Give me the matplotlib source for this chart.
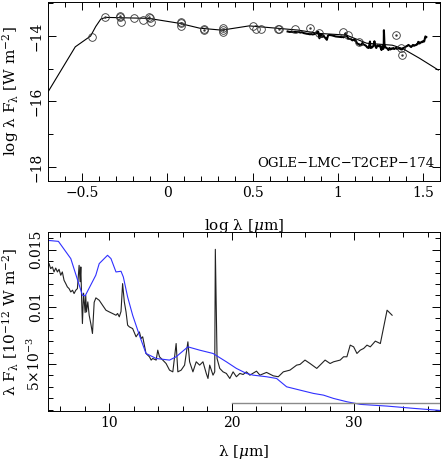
"""
SED of OGLE-LMC-T2CEP-174: photometry + model (top, log-log) and the
Spitzer IRS spectrum against the model (bottom, linear).

Writes out.png.
"""

import matplotlib
matplotlib.use("Agg")
import matplotlib.pyplot as plt
import numpy as np
from matplotlib.ticker import MultipleLocator, FixedLocator

# ---- top panel: model SED (log lambda [um], log lambda F_lambda [W m^-2]) ----
MODEL_LOGLAM = [-0.706, -0.54, -0.45, -0.42, -0.39, -0.36, -0.28, -0.11, 0.07,
                0.19, 0.32, 0.48, 0.64, 0.77, 0.89, 1.05, 1.17, 1.32, 1.38,
                1.48, 1.56, 1.59]
MODEL_LOGF = [-15.76, -14.33, -14.0, -13.71, -13.48, -13.43, -13.44, -13.46,
              -13.61, -13.76, -13.82, -13.69, -13.76, -13.82, -13.92, -13.97,
              -14.22, -14.28, -14.38, -14.68, -14.94, -15.04]

# photometry (open circles); DOTTED marks the ones drawn with a centre dot
PHOT_LOGLAM = [-0.441, -0.367, -0.275, -0.275, -0.269, -0.196, -0.143, -0.108,
               -0.104, -0.094, 0.078, 0.078, 0.082, 0.216, 0.216, 0.324, 0.324,
               0.324, 0.50, 0.52, 0.549, 0.647, 0.657, 0.751, 0.837, 0.892,
               1.029, 1.059, 1.127, 1.339, 1.373, 1.378]
PHOT_LOGF = [-14.02, -13.41, -13.38, -13.43, -13.58, -13.46, -13.51, -13.41,
             -13.46, -13.56, -13.56, -13.61, -13.69, -13.77, -13.82, -13.74,
             -13.82, -13.89, -13.69, -13.77, -13.80, -13.77, -13.77, -13.80,
             -13.74, -13.92, -13.87, -13.97, -14.17, -13.97, -14.38, -14.58]
DOTTED = [False, True, True, False, False, False, False, True, False, False,
          False, True, False, False, True, False, True, False, False, False,
          False, False, True, False, True, False, False, False, False, True,
          False, True]

# ---- bottom panel: IRS spectrum and model (lambda [um], 1e-3 x 1e-12 W m^-2) ----
IRS_LAM = [5.08, 5.22, 5.36, 5.49, 5.63, 5.77, 5.90, 6.04, 6.17, 6.31, 6.45,
           6.58, 6.72, 6.86, 7.00, 7.13, 7.27, 7.40, 7.54, 7.62, 7.68, 7.75,
           7.81, 7.90, 7.95, 8.03, 8.08, 8.14, 8.25, 8.36, 8.50, 8.63, 8.77,
           8.91, 9.18, 9.45, 9.73, 10.0, 10.27, 10.55, 10.68, 10.82, 10.96,
           11.09, 11.23, 11.37, 11.50, 11.64, 11.91, 12.19, 12.46, 12.60,
           12.73, 13.0, 13.28, 13.42, 13.55, 13.83, 13.96, 14.10, 14.37,
           14.64, 14.92, 15.19, 15.46, 15.60, 15.87, 16.15, 16.42, 16.56,
           16.83, 17.10, 17.38, 17.65, 17.92, 18.06, 18.20, 18.47, 18.61,
           18.66, 18.80, 19.02, 19.29, 19.56, 19.84, 20.11, 20.38, 20.66,
           20.93, 21.20, 21.48, 22.02, 22.30, 22.84, 23.39, 23.80, 24.21,
           24.75, 25.30, 25.57, 25.98, 26.39, 26.94, 27.62, 28.03, 28.31,
           28.85, 29.13, 29.40, 29.67, 29.95, 30.22, 30.49, 30.77, 31.04,
           31.31, 31.72, 32.13, 32.68, 33.09]
IRS_F = [13.79, 13.35, 13.50, 13.06, 13.40, 13.06, 13.29, 12.77, 13.06, 12.33,
         12.04, 11.75, 11.60, 11.31, 11.46, 11.17, 11.46, 11.60, 13.64, 12.2,
         13.5, 10.5, 8.54, 11.2, 10.6, 9.5, 11.0, 9.56, 10.44, 9.27, 8.5, 7.67,
         10.4, 10.79, 10.58, 10.15, 9.71, 9.56, 9.42, 9.27, 9.42, 9.13, 9.6,
         12.04, 10.44, 9.56, 8.40, 8.25, 8.10, 7.38, 7.81, 7.23, 7.38, 5.92,
         5.63, 5.34, 5.48, 5.34, 6.21, 5.63, 5.34, 5.04, 4.46, 4.31, 6.79,
         4.31, 4.46, 4.90, 6.94, 5.19, 4.31, 5.19, 4.90, 5.19, 4.17, 3.73,
         4.90, 4.02, 4.31, 15.04, 5.48, 4.61, 4.31, 4.17, 3.73, 4.31, 3.88,
         4.17, 4.08, 4.31, 4.02, 4.37, 4.02, 4.26, 3.96, 3.88, 4.31, 4.46,
         4.90, 4.96, 5.34, 5.04, 4.61, 5.34, 5.04, 5.19, 5.34, 5.63, 5.63,
         6.65, 6.50, 5.92, 6.21, 6.36, 6.65, 6.50, 7.0, 6.79, 9.71, 9.27]

BLUE_LAM = [4.95, 5.85, 6.86, 7.81, 8.03, 8.9, 9.18, 9.86, 10.14, 10.55,
            10.96, 11.15, 11.5, 11.91, 12.46, 13.0, 13.83, 14.92, 15.46, 16.42,
            17.38, 18.47, 19.56, 20.38, 21.2, 21.75, 22.84, 23.66, 24.48,
            25.57, 26.67, 27.49, 28.31, 29.4, 30.5, 32.68, 34.86, 37.0]
BLUE_F = [15.83, 15.74, 14.23, 11.02, 10.96, 12.77, 13.79, 14.52, 14.23,
          13.06, 13.12, 12.62, 10.87, 9.27, 7.52, 5.92, 5.48, 5.34, 5.63, 6.5,
          6.21, 5.92, 5.19, 4.61, 4.17, 4.02, 3.88, 3.73, 3.0, 2.71, 2.42,
          2.27, 1.98, 1.69, 1.46, 1.31, 1.11, 0.93]

FLOOR_LAM = [20.0, 37.0]
FLOOR_F = [1.60, 1.60]

plt.rcParams["font.family"] = ["DejaVu Serif"]
plt.rcParams["mathtext.fontset"] = "dejavuserif"
FS = 10


def style_axes(ax):
    ax.tick_params(which="both", direction="in", top=True, right=True,
                   labelsize=FS, width=0.7)
    ax.tick_params(which="major", length=6)
    ax.tick_params(which="minor", length=3.5)
    for lab in ax.get_yticklabels():
        lab.set_rotation(90)
        lab.set_va("center")
    for s in ax.spines.values():
        s.set_linewidth(0.7)


fig = plt.figure(figsize=(4.41, 4.63), dpi=100)
ax1 = fig.add_axes([48 / 441, 1 - 181 / 463, 392 / 441, 179 / 463])
ax2 = fig.add_axes([48 / 441, 1 - 411 / 463, 392 / 441, 179 / 463])

# top
ax1.plot(MODEL_LOGLAM, MODEL_LOGF, color="black", lw=0.8)
irs_log = np.log10(np.array(IRS_F) * 1e-15)
ax1.plot(np.log10(IRS_LAM), irs_log, color="black", lw=1.5)
ax1.plot(PHOT_LOGLAM, PHOT_LOGF, "o", ms=5.5, mfc="none", mec="#333333", mew=0.6)
dot = np.array(DOTTED)
ax1.plot(np.array(PHOT_LOGLAM)[dot], np.array(PHOT_LOGF)[dot], ".",
         ms=1.5, color="#333333")
ax1.set_xlim(-0.7, 1.6)
ax1.set_ylim(-18.43, -12.96)
ax1.xaxis.set_minor_locator(MultipleLocator(0.1))
ax1.yaxis.set_minor_locator(MultipleLocator(1))
ax1.set_xticks([-0.5, 0, 0.5, 1, 1.5])
ax1.set_xticklabels(["\u22120.5", "0", "0.5", "1", "1.5"])
ax1.set_yticks([-18, -16, -14])
ax1.set_yticklabels(["\u221218", "\u221216", "\u221214"])
style_axes(ax1)
ax1.set_xlabel(r"log λ [$\mu$m]", fontsize=FS + 1)
ax1.xaxis.set_label_coords(0.5, -0.2)
ax1.set_ylabel(r"log λ F$_{\mathregular{λ}}$ [W m$^{-2}$]", fontsize=FS + 1)
ax1.yaxis.set_label_coords(-0.07, 0.5)
ax1.text(0.985, 0.1, "OGLE\u2212LMC\u2212T2CEP\u2212174", transform=ax1.transAxes,
         ha="right", va="center", fontsize=9.5)

# bottom
ax2.plot(IRS_LAM, np.array(IRS_F) * 1e-3, color="#222222", lw=0.8)
ax2.plot(BLUE_LAM, np.array(BLUE_F) * 1e-3, color="#3030ff", lw=0.8)
ax2.plot(FLOOR_LAM, np.array(FLOOR_F) * 1e-3, color="#8a8a8a", lw=1.0)
ax2.set_xlim(5, 37)
ax2.set_ylim(0.00088, 0.01656)
ax2.xaxis.set_major_locator(FixedLocator([10, 20, 30]))
ax2.xaxis.set_minor_locator(MultipleLocator(2))
ax2.yaxis.set_minor_locator(MultipleLocator(0.001))
ax2.set_yticks([0.005, 0.01, 0.015])
ax2.set_yticklabels([r"5$\times$10$^{-3}$", "0.01", "0.015"])
style_axes(ax2)
ax2.set_xlabel(r"λ [$\mu$m]", fontsize=FS + 1)
ax2.xaxis.set_label_coords(0.5, -0.18)
ax2.set_ylabel(r"λ F$_{\mathregular{λ}}$ [10$^{-12}$ W m$^{-2}$]", fontsize=FS + 1)
ax2.yaxis.set_label_coords(-0.07, 0.5)

fig.savefig("out.png", dpi=100)
